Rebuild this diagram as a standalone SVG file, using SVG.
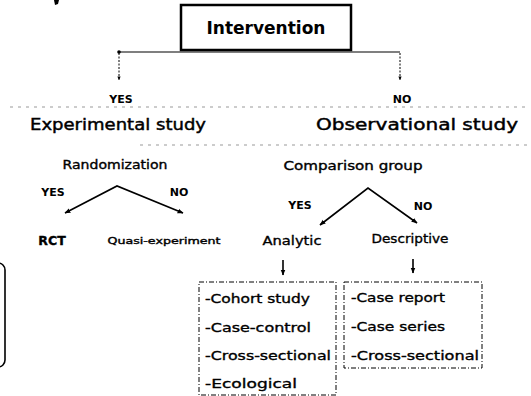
<svg xmlns="http://www.w3.org/2000/svg" width="531" height="396" viewBox="0 0 531 396">
  <defs>
    <marker id="arr" viewBox="0 0 10 10" refX="9" refY="5" markerWidth="6" markerHeight="6" orient="auto-start-reverse" markerUnits="userSpaceOnUse">
      <path d="M0,1 L10,5 L0,9 Z" fill="#000"/>
    </marker>
    <marker id="arrSmall" viewBox="0 0 10 10" refX="9" refY="5" markerWidth="4" markerHeight="4" orient="auto" markerUnits="userSpaceOnUse">
      <path d="M0,1 L10,5 L0,9 Z" fill="#000"/>
    </marker>
  </defs>
  <style>
    text { font-family: "DejaVu Sans", "Liberation Sans", sans-serif; fill: #000; stroke: #000; stroke-width: 0.35; }
    .title { font-size: 17px; font-weight: bold; stroke-width: 0; }
    .head { font-size: 16px; stroke-width: 0.45; }
    .lab { font-size: 11px; font-weight: bold; stroke-width: 0; }
    .q { font-size: 11.5px; }
    .item { font-size: 12.5px; }
    .small { font-size: 9.5px; stroke-width: 0.4; }
    .faint { stroke: #999; stroke-width: 1; stroke-dasharray: 3 5; fill: none; }
    .conn { stroke: #000; stroke-width: 1.6; fill: none; }
    .dash { stroke: #000; stroke-width: 1; stroke-dasharray: 2 1.5; fill: none; }
    .box { stroke: #000; stroke-width: 1; stroke-dasharray: 5 2 1 2; fill: #fff; }
  </style>
  <rect width="531" height="396" fill="#fff"/>

  <!-- stray marks at the page edges -->
  <path d="M54,0 L59,0 L58,4 L55,5 Z" fill="#000"/>
  <rect x="-20" y="263" width="25" height="104" rx="7" fill="none" stroke="#000" stroke-width="1.6"/>

  <!-- faint rules under the headings -->
  <line class="faint" x1="10" y1="107" x2="525" y2="107"/>
  <line class="faint" x1="140" y1="145" x2="531" y2="145"/>

  <g id="connectors">
    <line x1="119" y1="52" x2="400" y2="52" stroke="#000" stroke-width="1.2"/>
    <circle cx="119" cy="52" r="1.8" fill="#000"/>
    <line class="dash" x1="119" y1="53" x2="119" y2="80" marker-end="url(#arrSmall)"/>
    <line class="dash" x1="400" y1="53" x2="400" y2="80" marker-end="url(#arrSmall)"/>
    <path class="conn" d="M65,213 L117,186 L183,213" marker-end="url(#arr)" marker-start="url(#arr)"/>
    <path class="conn" d="M320,225 L368,188 L417,223" marker-end="url(#arr)" marker-start="url(#arr)"/>
    <line class="conn" x1="283" y1="260" x2="283" y2="275" marker-end="url(#arr)"/>
    <line class="conn" x1="413" y1="259" x2="413" y2="273" marker-end="url(#arr)"/>
  </g>

  <g id="intervention">
    <rect x="181" y="5" width="170" height="45" fill="#fff" stroke="#000" stroke-width="2.5"/>
    <text class="title" x="266" y="34" text-anchor="middle">Intervention</text>
  </g>

  <g id="yes-top"><text class="lab" x="121" y="103" text-anchor="middle">YES</text></g>
  <g id="no-top"><text class="lab" x="402" y="103" text-anchor="middle">NO</text></g>

  <g id="experimental">
    <text class="head" x="118" y="130" text-anchor="middle" textLength="176" lengthAdjust="spacingAndGlyphs">Experimental study</text>
  </g>
  <g id="observational">
    <text class="head" x="417" y="130" text-anchor="middle" textLength="202" lengthAdjust="spacingAndGlyphs">Observational study</text>
  </g>

  <g id="randomization">
    <text class="q" x="115" y="169" text-anchor="middle" textLength="105" lengthAdjust="spacingAndGlyphs">Randomization</text>
  </g>
  <g id="comparison">
    <text class="q" x="353" y="170" text-anchor="middle" textLength="139" lengthAdjust="spacingAndGlyphs">Comparison  group</text>
  </g>

  <g id="yes-rand"><text class="lab" x="53" y="196" text-anchor="middle">YES</text></g>
  <g id="no-rand"><text class="lab" x="179" y="196" text-anchor="middle">NO</text></g>
  <g id="yes-comp"><text class="lab" x="300" y="209" text-anchor="middle">YES</text></g>
  <g id="no-comp"><text class="lab" x="423" y="210" text-anchor="middle">NO</text></g>

  <g id="rct"><text class="item" x="52" y="245" text-anchor="middle" font-weight="bold" stroke-width="0">RCT</text></g>
  <g id="quasi"><text class="small" x="164" y="244" text-anchor="middle" textLength="113" lengthAdjust="spacingAndGlyphs">Quasi-experiment</text></g>
  <g id="analytic"><text class="item" x="292" y="245" text-anchor="middle" textLength="59" lengthAdjust="spacingAndGlyphs">Analytic</text></g>
  <g id="descriptive"><text class="item" x="410" y="243" text-anchor="middle" textLength="77" lengthAdjust="spacingAndGlyphs">Descriptive</text></g>

  <g id="analytic-types">
    <rect class="box" x="199" y="282" width="137" height="113"/>
    <text class="item" x="205" y="303" textLength="105" lengthAdjust="spacingAndGlyphs">-Cohort study</text>
    <text class="item" x="205" y="332" textLength="106" lengthAdjust="spacingAndGlyphs">-Case-control</text>
    <text class="item" x="205" y="360" textLength="126" lengthAdjust="spacingAndGlyphs">-Cross-sectional</text>
    <text class="item" x="205" y="388" textLength="92" lengthAdjust="spacingAndGlyphs">-Ecological</text>
  </g>

  <g id="descriptive-types">
    <rect class="box" x="344" y="282" width="138" height="86"/>
    <text class="item" x="351" y="302" textLength="94" lengthAdjust="spacingAndGlyphs">-Case report</text>
    <text class="item" x="351" y="331" textLength="94" lengthAdjust="spacingAndGlyphs">-Case series</text>
    <text class="item" x="351" y="360" textLength="128" lengthAdjust="spacingAndGlyphs">-Cross-sectional</text>
  </g>
</svg>
